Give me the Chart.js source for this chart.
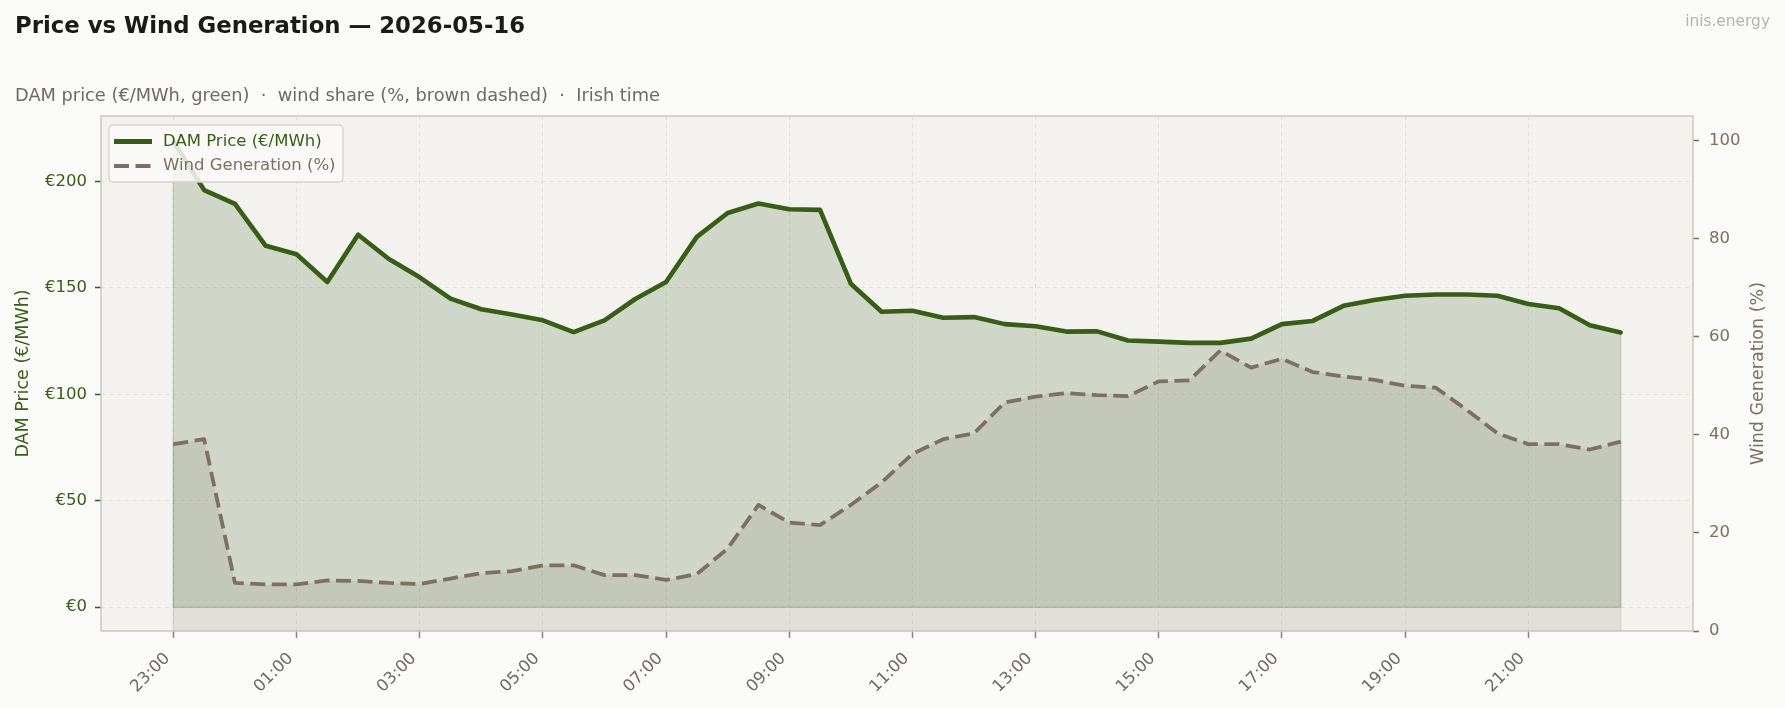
<!DOCTYPE html>
<html>
<head>
<meta charset="utf-8">
<title>Price vs Wind Generation</title>
<script src="https://cdn.jsdelivr.net/npm/chart.js@4.4.1/dist/chart.umd.min.js"></script>
<style>
  html, body { margin: 0; padding: 0; background: #fafaf8; }
  canvas { display: block; }
</style>
</head>
<body>
<canvas id="priceWindChart" width="1785" height="708"></canvas>
<script>
// half-hourly slots, Irish time
const times = [
    '23:00', '23:30', '00:00', '00:30', '01:00', '01:30', '02:00', '02:30',
    '03:00', '03:30', '04:00', '04:30', '05:00', '05:30', '06:00', '06:30',
    '07:00', '07:30', '08:00', '08:30', '09:00', '09:30', '10:00', '10:30',
    '11:00', '11:30', '12:00', '12:30', '13:00', '13:30', '14:00', '14:30',
    '15:00', '15:30', '16:00', '16:30', '17:00', '17:30', '18:00', '18:30',
    '19:00', '19:30', '20:00', '20:30', '21:00', '21:30', '22:00', '22:30'
];

// DAM price, EUR/MWh
const damPrice = [
    219.0, 196.0, 189.5, 169.8, 165.8, 152.8, 175.0, 163.6,
    155.0, 145.0, 140.0, 137.5, 134.8, 129.2, 134.8, 144.8,
    152.8, 174.0, 185.2, 189.7, 187.0, 186.7, 152.0, 138.8,
    139.3, 136.0, 136.3, 133.0, 132.0, 129.5, 129.6, 125.3,
    124.8, 124.2, 124.2, 126.2, 133.0, 134.5, 141.6, 144.3,
    146.3, 146.9, 146.9, 146.3, 142.5, 140.5, 132.5, 129.1
];

// wind share of generation, %
const windShare = [
    38.1, 39.1, 9.8, 9.5, 9.5, 10.3, 10.2, 9.8,
    9.6, 10.7, 11.8, 12.2, 13.4, 13.4, 11.4, 11.4,
    10.4, 11.6, 16.8, 25.7, 22.1, 21.6, 25.7, 30.3,
    36.1, 39.1, 40.3, 46.6, 47.8, 48.5, 48.1, 47.9,
    50.9, 51.1, 57.2, 53.7, 55.5, 52.8, 51.9, 51.2,
    50.0, 49.6, 45.1, 40.3, 38.1, 38.1, 37.0, 38.6
];

const priceTicks = [0, 50, 100, 150, 200];
const windTicks = [0, 20, 40, 60, 80, 100];
const timeTicks = [0, 4, 8, 12, 16, 20, 24, 28, 32, 36, 40, 44];

const GREEN = '#385d16';
const BROWN = '#7d6f62';
const GREY_TEXT = '#6e6a66';
const GRID = '#e2dfd9';
const FONT = "'DejaVu Sans', 'Noto Sans', sans-serif";

Chart.defaults.font.family = FONT;

// backgrounds, frame, headings, right axis title and the in-plot legend
const decorations = {
    id: 'decorations',
    beforeDraw(chart) {
        const { ctx, chartArea: a } = chart;
        ctx.save();
        ctx.fillStyle = '#fafaf8';
        ctx.fillRect(0, 0, chart.width, chart.height);
        ctx.fillStyle = '#f3f2ef';
        ctx.fillRect(a.left, a.top, a.right - a.left, a.bottom - a.top);
        ctx.restore();
    },
    afterDatasetsDraw(chart) {
        // faint outline on the open sides of each filled area
        const { ctx } = chart;
        ctx.save();
        chart.data.datasets.forEach((ds, i) => {
            const pts = chart.getDatasetMeta(i).data;
            const base = chart.scales[ds.yAxisID].getPixelForValue(0);
            const first = pts[0], last = pts[pts.length - 1];
            ctx.beginPath();
            ctx.moveTo(first.x, first.y);
            ctx.lineTo(first.x, base);
            ctx.lineTo(last.x, base);
            ctx.lineTo(last.x, last.y);
            ctx.strokeStyle = ds.edgeColor;
            ctx.lineWidth = 1.5;
            ctx.stroke();
        });
        ctx.restore();
    },
    afterDraw(chart) {
        const { ctx, chartArea: a } = chart;
        ctx.save();

        ctx.strokeStyle = '#cdc8c1';
        ctx.lineWidth = 1.5;
        ctx.strokeRect(a.left, a.top, a.right - a.left, a.bottom - a.top);

        ctx.textBaseline = 'middle';
        ctx.textAlign = 'left';
        ctx.fillStyle = '#1a1a1a';
        ctx.font = 'bold 22.8px ' + FONT;
        ctx.fillText('Price vs Wind Generation \u2014 2026-05-16', 15, 27);

        ctx.fillStyle = GREY_TEXT;
        ctx.font = '17.8px ' + FONT;
        ctx.fillText('DAM price (\u20ac/MWh, green)  \u00b7  wind share (%, brown dashed)  \u00b7  Irish time', 15, 96);

        ctx.textAlign = 'right';
        ctx.fillStyle = '#b4b4b4';
        ctx.font = '15.4px ' + FONT;
        ctx.fillText('inis.energy', 1770, 22);

        // right axis title, reading upwards like the left one
        ctx.save();
        ctx.translate(1758, (a.top + a.bottom) / 2);
        ctx.rotate(-Math.PI / 2);
        ctx.textAlign = 'center';
        ctx.fillStyle = BROWN;
        ctx.font = '17.5px ' + FONT;
        ctx.fillText('Wind Generation (%)', 0, 0);
        ctx.restore();

        // legend box
        const bx = 109, by = 125, bw = 234, bh = 57;
        ctx.beginPath();
        ctx.roundRect(bx, by, bw, bh, 4);
        ctx.fillStyle = 'rgba(250, 250, 248, 0.85)';
        ctx.fill();
        ctx.strokeStyle = '#d6d2cc';
        ctx.lineWidth = 1.3;
        ctx.stroke();

        const rows = chart.data.datasets.slice().sort((p, q) => q.order - p.order);
        rows.forEach((ds, i) => {
            const y = 141.5 + i * 24.5;
            ctx.beginPath();
            ctx.setLineDash(ds.borderDash || []);
            ctx.lineWidth = ds.borderWidth + 0.4;
            ctx.strokeStyle = ds.borderColor;
            ctx.lineCap = 'butt';
            ctx.moveTo(114, y);
            ctx.lineTo(152, y);
            ctx.stroke();
            ctx.setLineDash([]);
            ctx.textAlign = 'left';
            ctx.fillStyle = ds.legendColor;
            ctx.font = '16.5px ' + FONT;
            ctx.fillText(ds.label, 163, y);
        });

        ctx.restore();
    }
};

const ctx = document.getElementById('priceWindChart').getContext('2d');

new Chart(ctx, {
    type: 'line',
    data: {
        datasets: [
            {
                label: 'DAM Price (\u20ac/MWh)',
                data: damPrice.map((v, i) => ({ x: i, y: v })),
                yAxisID: 'y',
                order: 2,
                borderColor: GREEN,
                legendColor: GREEN,
                edgeColor: 'rgba(56, 93, 22, 0.22)',
                borderWidth: 4.6,
                borderJoinStyle: 'round',
                borderCapStyle: 'round',
                backgroundColor: 'rgba(56, 93, 22, 0.18)',
                fill: 'origin',
                pointRadius: 0,
                tension: 0
            },
            {
                label: 'Wind Generation (%)',
                data: windShare.map((v, i) => ({ x: i, y: v })),
                yAxisID: 'y1',
                order: 1,
                borderColor: BROWN,
                legendColor: BROWN,
                edgeColor: 'rgba(125, 111, 98, 0.18)',
                borderWidth: 3.8,
                borderDash: [15, 6.5],
                borderJoinStyle: 'round',
                backgroundColor: 'rgba(125, 111, 98, 0.15)',
                fill: 'origin',
                pointRadius: 0,
                tension: 0
            }
        ]
    },
    options: {
        responsive: false,
        animation: false,
        devicePixelRatio: 1,
        layout: {
            padding: { top: 116, left: 0, right: 0, bottom: 0 }
        },
        plugins: {
            legend: { display: false },
            title: { display: false },
            tooltip: { enabled: false }
        },
        scales: {
            x: {
                type: 'linear',
                min: -2.35,
                max: 49.35,
                afterBuildTicks: scale => { scale.ticks = timeTicks.map(v => ({ value: v })); },
                afterFit: scale => { scale.height = 77; },
                ticks: {
                    autoSkip: false,
                    minRotation: 45,
                    maxRotation: 45,
                    padding: 11,
                    labelOffset: -6,
                    color: GREY_TEXT,
                    font: { size: 16.5 },
                    callback: v => times[v]
                },
                grid: {
                    color: GRID,
                    lineWidth: 1,
                    tickColor: '#8a8580',
                    tickLength: 7,
                    tickWidth: 1.5,
                    tickBorderDash: []
                },
                border: { display: false, dash: [4, 4] }
            },
            y: {
                position: 'left',
                min: -11.2,
                max: 230.8,
                afterBuildTicks: scale => { scale.ticks = priceTicks.map(v => ({ value: v })); },
                afterFit: scale => { scale.width = 101; },
                ticks: {
                    padding: 8,
                    color: GREEN,
                    font: { size: 16.5 },
                    callback: v => '\u20ac' + v
                },
                grid: {
                    color: GRID,
                    lineWidth: 1,
                    tickColor: GREEN,
                    tickLength: 6,
                    tickWidth: 1.5,
                    tickBorderDash: []
                },
                border: { display: false, dash: [4, 4] },
                title: {
                    display: true,
                    text: 'DAM Price (\u20ac/MWh)',
                    color: GREEN,
                    font: { size: 17.5 },
                    padding: { top: 13, bottom: 0 }
                }
            },
            y1: {
                position: 'right',
                min: 0,
                max: 105,
                afterBuildTicks: scale => { scale.ticks = windTicks.map(v => ({ value: v })); },
                afterFit: scale => { scale.width = 92; },
                ticks: {
                    padding: 10,
                    color: BROWN,
                    font: { size: 16.5 }
                },
                grid: {
                    drawOnChartArea: false,
                    tickColor: BROWN,
                    tickLength: 6,
                    tickWidth: 1.5
                },
                border: { display: false }
            }
        }
    },
    plugins: [decorations]
});
</script>
</body>
</html>
